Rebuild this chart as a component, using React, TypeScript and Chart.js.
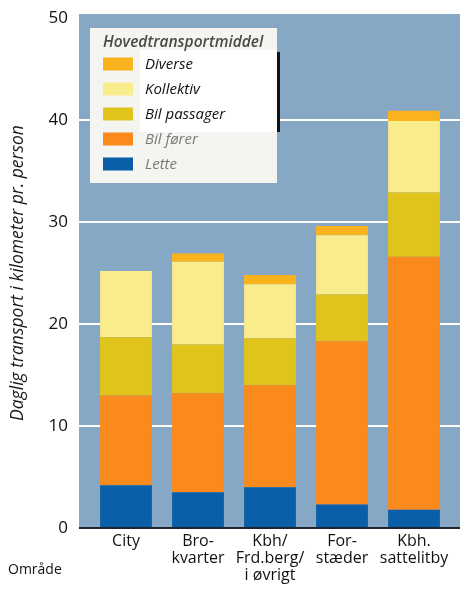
import React, { useEffect, useRef } from "react";
import { Chart, registerables } from "chart.js";

Chart.register(...registerables);

// Areas along the x axis (multi-line labels)
const categories: string[][] = [
  ["City"],
  ["Bro-", "kvarter"],
  ["Kbh/", "Frd.berg/", "i øvrigt"],
  ["For-", "stæder"],
  ["Kbh.", "sattelitby"],
];

// Daily km per person by main mode of transport (stacked bottom to top)
const lette = [4.2, 3.5, 4.0, 2.3, 1.8];
const bilForer = [8.8, 9.7, 10.0, 16.0, 24.8];
const bilPassager = [5.7, 4.8, 4.6, 4.6, 6.3];
const kollektiv = [6.5, 8.1, 5.3, 5.8, 7.0];
const diverse = [0, 0.8, 0.9, 0.9, 1.0];

const seriesNames = ["Lette", "Bil fører", "Bil passager", "Kollektiv", "Diverse"];
const yTicks = [0, 10, 20, 30, 40, 50];

const legendTitle = "Hovedtransportmiddel";
const axisTitle = "Daglig transport i kilometer pr. person";
const areaLabel = "Område";

const FONT = "'Open Sans', 'DejaVu Sans', sans-serif";
const PLOT_BG = "#87a8c4";
const COLORS = ["#0a5fa8", "#f98a1b", "#e1c41b", "#f9ec8c", "#fab31c"];
// text colours of legend entries, top to bottom
const LEGEND_TEXT = ["#111111", "#111111", "#111111", "#7a7a7a", "#7a7a7a"];

const plotBackground = {
  id: "plotBackground",
  beforeDraw(chart: any) {
    const { ctx, chartArea } = chart;
    ctx.save();
    ctx.fillStyle = "#ffffff";
    ctx.fillRect(0, 0, chart.width, chart.height);
    const x0 = chartArea.left - 11;
    const y0 = chartArea.top - 4;
    ctx.fillStyle = PLOT_BG;
    ctx.fillRect(x0, y0, chart.width - x0, chartArea.bottom - y0);
    ctx.restore();
  },
};

const whiteGrid = {
  id: "whiteGrid",
  beforeDatasetsDraw(chart: any) {
    const { ctx, chartArea, scales } = chart;
    const y = scales.y;
    ctx.save();
    ctx.strokeStyle = "#ffffff";
    ctx.lineWidth = 2;
    for (const v of yTicks) {
      if (v <= 0 || v >= 50) continue;
      const py = Math.round(y.getPixelForValue(v));
      ctx.beginPath();
      ctx.moveTo(chartArea.left - 11, py);
      ctx.lineTo(chart.width, py);
      ctx.stroke();
    }
    ctx.restore();
  },
  afterDatasetsDraw(chart: any) {
    const { ctx, chartArea, scales } = chart;
    const py = scales.y.getPixelForValue(0);
    ctx.save();
    ctx.strokeStyle = "#1c2630";
    ctx.lineWidth = 2;
    ctx.beginPath();
    ctx.moveTo(chartArea.left - 11, py);
    ctx.lineTo(chart.width, py);
    ctx.stroke();
    ctx.restore();
  },
};

const boxLegend = {
  id: "boxLegend",
  afterDatasetsDraw(chart: any) {
    const { ctx, chartArea } = chart;
    const left = chartArea.left;
    const top = chartArea.top + 10;
    ctx.save();
    ctx.fillStyle = "#f4f4f1";
    ctx.fillRect(left, top, 187, 155);
    ctx.fillStyle = "#ffffff";
    ctx.fillRect(left + 50, top + 22, 137, 82);
    ctx.fillStyle = "#111111";
    ctx.fillRect(left + 187, top + 24, 3, 80);

    ctx.textAlign = "left";
    ctx.textBaseline = "alphabetic";
    ctx.fillStyle = "#4a4a4a";
    ctx.font = `italic 600 15.5px ${FONT}`;
    ctx.fillText(legendTitle, left + 13, top + 19);

    const items = chart.data.datasets.slice().reverse();
    ctx.font = `italic 15px ${FONT}`;
    ctx.textBaseline = "middle";
    items.forEach((ds: any, i: number) => {
      const cy = top + 36 + i * 25;
      ctx.fillStyle = ds.backgroundColor;
      ctx.fillRect(left + 13, cy - 6.5, 30, 13);
      ctx.fillStyle = LEGEND_TEXT[i];
      ctx.fillText(ds.label, left + 55, cy + 1);
    });
    ctx.restore();
  },
  afterDraw(chart: any) {
    const { ctx } = chart;
    ctx.save();
    ctx.font = `14px ${FONT}`;
    ctx.fillStyle = "#111111";
    ctx.textAlign = "left";
    ctx.textBaseline = "middle";
    ctx.fillText(areaLabel, 8, 570);
    ctx.restore();
  },
};

export default function App() {
  const ref = useRef<HTMLCanvasElement>(null);

  useEffect(() => {
    const values = [lette, bilForer, bilPassager, kollektiv, diverse];
    const chart = new Chart(ref.current as HTMLCanvasElement, {
      type: "bar",
      data: {
        labels: categories,
        datasets: values.map((data, i) => ({
          label: seriesNames[i],
          data,
          backgroundColor: COLORS[i],
          borderWidth: 0,
          barPercentage: 0.72,
          categoryPercentage: 1,
        })),
      },
      options: {
        responsive: false,
        animation: false,
        devicePixelRatio: 1,
        layout: { padding: { left: 0, right: 10, top: 18, bottom: 0 } },
        plugins: {
          legend: { display: false },
          tooltip: { enabled: false },
        },
        scales: {
          x: {
            stacked: true,
            offset: true,
            grid: { display: false, drawTicks: false },
            border: { display: false },
            ticks: {
              color: "#111111",
              font: { family: FONT, size: 16, lineHeight: 1.06 },
              padding: 5,
              maxRotation: 0,
              autoSkip: false,
            },
            afterFit(scale: any) {
              scale.height = 62;
            },
          },
          y: {
            stacked: true,
            min: 0,
            max: 50,
            grid: { display: false, drawTicks: false },
            border: { display: false },
            afterBuildTicks(scale: any) {
              scale.ticks = yTicks.map((v) => ({ value: v }));
            },
            ticks: {
              color: "#111111",
              font: { family: FONT, size: 17 },
              padding: 22,
            },
            title: {
              display: true,
              text: axisTitle,
              color: "#1a1a1a",
              font: { family: FONT, size: 17.5, style: "italic", lineHeight: 1.2 },
              padding: { top: 7.5, bottom: 0 },
            },
            afterFit(scale: any) {
              scale.width = 90;
              scale.paddingTop = 0;
              scale.paddingBottom = 0;
            },
          },
        },
      },
      plugins: [plotBackground, whiteGrid, boxLegend],
    });
    return () => chart.destroy();
  }, []);

  return (
    <div style={{ position: "fixed", left: 0, top: 0, width: 460, height: 590, background: "#ffffff" }}>
      <canvas ref={ref} width={460} height={590} style={{ display: "block", width: 460, height: 590 }} />
    </div>
  );
}
